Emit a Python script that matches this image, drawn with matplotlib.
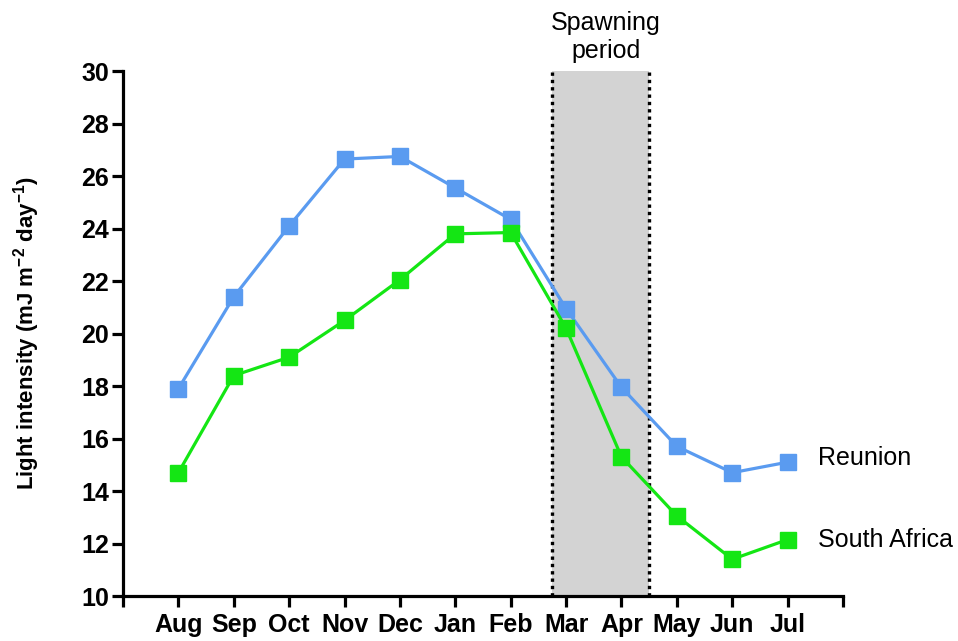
import matplotlib
matplotlib.use("Agg")
import matplotlib.pyplot as plt

months = ["Aug", "Sep", "Oct", "Nov", "Dec", "Jan", "Feb", "Mar", "Apr", "May", "Jun", "Jul"]
reunion = [17.9, 21.4, 24.1, 26.65, 26.75, 25.55, 24.35, 20.95, 17.95, 15.7, 14.7, 15.1]
south_africa = [14.7, 18.4, 19.1, 20.5, 22.05, 23.8, 23.85, 20.2, 15.3, 13.05, 11.4, 12.15]
spawning_start, spawning_end = 6.75, 8.5

plt.rcParams["font.family"] = ["Liberation Sans", "DejaVu Sans"]
plt.rcParams["mathtext.fontset"] = "custom"
plt.rcParams["mathtext.rm"] = "Liberation Sans"
plt.rcParams["mathtext.bf"] = "Liberation Sans:bold"

fig = plt.figure(figsize=(9.58, 6.41), dpi=100)
ax = fig.add_axes([0.1284, 0.0702, 0.7516, 0.8188])

x = list(range(len(months)))

# spawning window
ax.axvspan(spawning_start, spawning_end, ymin=0, ymax=1, color="#d3d3d3", zorder=0, lw=0)
for xv in (spawning_start, spawning_end):
    ax.axvline(xv, color="black", lw=2.4, ls=(0, (1, 1.2)), zorder=1)

blue = "#5A9BF0"
green = "#14E614"
ax.plot(x, reunion, color=blue, lw=2.3, marker="s", ms=11.5, zorder=3, clip_on=False)
ax.plot(x, south_africa, color=green, lw=2.3, marker="s", ms=11.5, zorder=3, clip_on=False)

ax.set_xlim(-1, 12)
ax.set_ylim(10, 30)
ax.set_xticks(list(range(-1, 13)))
ax.set_xticklabels([""] + months + [""])
ax.set_yticks(list(range(10, 31, 2)))

for s in ("top", "right"):
    ax.spines[s].set_visible(False)
for s in ("left", "bottom"):
    ax.spines[s].set_linewidth(2.3)

ax.tick_params(axis="both", direction="out", length=8, width=2.3, labelsize=18, pad=2)
ax.tick_params(axis="x", pad=4)
for lab in ax.get_xticklabels() + ax.get_yticklabels():
    lab.set_fontweight("bold")

ax.set_ylabel(r"Light intensity (mJ m$^{\mathbf{-2}}$ day$^{\mathbf{-1}}$)",
              fontsize=16, fontweight="bold")
ax.yaxis.set_label_coords(-0.113, 0.5)

ax.text(7.72, 30.3, "Spawning\nperiod", ha="center", va="bottom", fontsize=18,
        linespacing=1.2, clip_on=False)
ax.text(11.55, 15.26, "Reunion", ha="left", va="center", fontsize=18, clip_on=False)
ax.text(11.55, 12.13, "South Africa", ha="left", va="center", fontsize=18, clip_on=False)

fig.savefig("out.png", dpi=100)
